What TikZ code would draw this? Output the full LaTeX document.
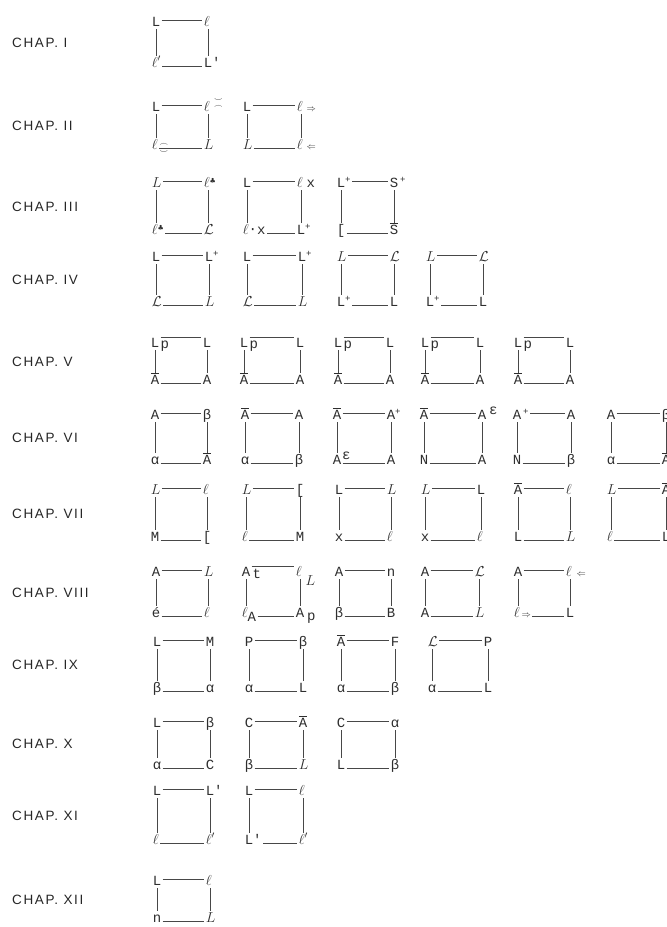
\documentclass[tikz,border=0pt]{standalone}
\usepackage{amsmath}
\usepackage{fontspec}
\newfontfamily\labfont[LetterSpace=12]{Liberation Sans}
\newfontfamily\twfont{Liberation Mono}
\newfontfamily\symfont{DejaVu Sans}
\newcommand\toph{6pt}
\newcommand\ob[1]{\makebox[0pt][l]{\rule[10.5pt]{8.4pt}{0.6pt}}#1}
\newcommand\sps[1]{\raisebox{4.5pt}{\fontsize{9}{9}\selectfont #1}}
\tikzset{
  cell/.style={anchor=base west, inner sep=0pt, outer sep=0pt,
    font=\twfont\fontsize{14}{16}\selectfont, text=black!82},
  dec/.style={inner sep=0pt, outer sep=0pt, text=black!82,
    font=\fontsize{8}{8}\selectfont},
  ln/.style={draw=black!72, line width=0.6pt},
  chap/.style={anchor=west, inner sep=0pt,
    font=\labfont\fontsize{13.5}{15}\selectfont, text=black!85},
}
\newcommand\sq[9]{%
  \node[cell] (#5tl) at (#1-4.2,#2) {#6};
  \node[cell] (#5tr) at (#1+#3-4.2,#2) {#7};
  \node[cell] (#5bl) at (#1-4.2,#2+#4) {#8};
  \node[cell] (#5br) at (#1+#3-4.2,#2+#4) {#9};
  \draw[ln] ([shift={(1.5pt,\toph)}]#5tl.base east) -- ([shift={(-1.5pt,\toph)}]#5tr.base west);
  \draw[ln] ([shift={(4.2pt,-3pt)}]#5tl.base west) -- ([shift={(4.2pt,11pt)}]#5bl.base west);
  \draw[ln] ([shift={(4.2pt,-3pt)}]#5tr.base west) -- ([shift={(4.2pt,11pt)}]#5br.base west);
  \draw[ln] ([shift={(1.5pt,0.3pt)}]#5bl.base east) -- ([shift={(-1.5pt,0.3pt)}]#5br.base west);
}
\begin{document}
\begin{tikzpicture}[x=1pt,y=-1pt]
\fill[white] (0,0) rectangle (667,927);
\useasboundingbox (0,0) rectangle (667,927);

% chapter labels
\node[chap] (ch1) at (12,42.5) {CHAP. I};
\node[chap] (ch2) at (12,126) {CHAP. II};
\node[chap] (ch3) at (12,206.5) {CHAP. III};
\node[chap] (ch4) at (12,279.5) {CHAP. IV};
\node[chap] (ch5) at (12,361.5) {CHAP. V};
\node[chap] (ch6) at (12,437.5) {CHAP. VI};
\node[chap] (ch7) at (12,513.5) {CHAP. VII};
\node[chap] (ch8) at (12,592.5) {CHAP. VIII};
\node[chap] (ch9) at (12,665) {CHAP. IX};
\node[chap] (ch10) at (12,744) {CHAP. X};
\node[chap] (ch11) at (12,815.5) {CHAP. XI};
\node[chap] (ch12) at (12,899.5) {CHAP. XII};

% I
\sq{156}{26}{52}{41}{a}{L}{$\ell$}{$\ell'$}{L'}
% II
\sq{156}{111}{52}{38}{b}{L}{$\ell$}{$\ell$}{$L$}
\node[dec,anchor=south west] (bsm) at ([shift={(4.5pt,9.5pt)}]btr.base east) {$\smile$};
\node[dec,anchor=north west] (bfr) at ([shift={(4.5pt,5.5pt)}]btr.base east) {$\frown$};
\node[dec,anchor=south west] (bcap) at ([shift={(2pt,2.5pt)}]bbl.base east) {$\frown$};
\node[dec,anchor=north west] (bcup) at ([shift={(2pt,-1.5pt)}]bbl.base east) {$\smile$};
\sq{247}{111}{54}{38}{c}{L}{$\ell$\kern4pt{\small$\Rightarrow$}}{$L$}{$\ell$\kern4pt{\small$\Leftarrow$}}
% III
\sq{156}{187}{52}{47}{d}{$L$}{$\ell$\raisebox{4pt}{\symfont\fontsize{7}{7}\selectfont ♣}}{$\ell$\raisebox{4pt}{\symfont\fontsize{7}{7}\selectfont ♣}}{$\mathcal{L}$}
\sq{247}{187}{54}{47}{e}{L}{$\ell$\kern4pt x}{$\ell$\raisebox{1pt}{·}x}{L\sps{+}}
\sq{341}{187}{53}{47}{f}{L\sps{+}}{S\kern2pt\sps{+}}{[}{\ob{S}}
% IV
\sq{156}{261}{53}{45}{g}{L}{L\sps{+}}{$\mathcal{L}$}{$L$}
\sq{247}{261}{55}{45}{h}{L}{L\sps{+}}{$\mathcal{L}$}{$L$}
\sq{341}{261}{53}{45}{i}{$L$}{$\mathcal{L}$}{L\sps{+}}{L}
\sq{430}{261}{53}{45}{j}{$L$}{$\mathcal{L}$}{L\sps{+}}{L}
% V
\renewcommand\toph{10pt}
\sq{155}{347}{52}{37}{k}{L}{L}{\ob{A}}{A}
\node[cell] (kp) at ([shift={(1.5pt,-1.5pt)}]ktl.base east) {p};
\sq{244}{347}{56}{37}{l}{L}{L}{\ob{A}}{A}
\node[cell] (lp) at ([shift={(1.5pt,-1.5pt)}]ltl.base east) {p};
\sq{338}{347}{52}{37}{m}{L}{L}{\ob{A}}{A}
\node[cell] (mp) at ([shift={(1.5pt,-1.5pt)}]mtl.base east) {p};
\sq{425}{347}{55}{37}{n}{L}{L}{\ob{A}}{A}
\node[cell] (np) at ([shift={(1.5pt,-1.5pt)}]ntl.base east) {p};
\sq{518}{347}{52}{37}{o}{L}{L}{\ob{A}}{A}
\node[cell] (op) at ([shift={(1.5pt,-1.5pt)}]otl.base east) {p};
\renewcommand\toph{6pt}
% VI
\sq{155}{419}{52}{45}{p}{A}{β}{α}{\ob{A}}
\sq{245}{419}{54}{45}{q}{\ob{A}}{A}{α}{β}
\sq{337}{419}{54}{45}{r}{\ob{A}}{A\sps{+}}{A\rlap{\raisebox{5pt}{\kern1pt ε}}}{A}
\sq{424}{419}{58}{45}{s}{\ob{A}}{A\kern3pt\raisebox{5pt}{ε}}{N}{A}
\sq{517}{419}{54}{45}{t}{A\kern2pt\sps{+}}{A}{N}{β}
\sq{611}{419}{55}{45}{u}{A}{β}{α}{\ob{A}}
% VII
\sq{155}{494}{52}{47}{v}{$L$}{$\ell$}{M}{[}
\sq{246}{494}{54}{47}{w}{$L$}{[}{$\ell$}{M}
\sq{339}{494}{52}{47}{x}{L}{$L$}{x}{$\ell$}
\sq{425}{494}{56}{47}{y}{$L$}{L}{x}{$\ell$}
\sq{518}{494}{52}{47}{z}{\ob{A}}{$\ell$}{L}{$L$}
\sq{611}{494}{55}{47}{aa}{$L$}{\ob{A}}{$\ell$}{L}
% VIII
\sq{156}{576}{52}{41}{ab}{A}{$L$}{é}{$\ell$}
\renewcommand\toph{10pt}
\sq{246}{576}{54}{41}{ac}{A}{$\ell$\rlap{\raisebox{-9pt}{\kern4pt$L$}}}{$\ell$\raisebox{-4pt}{A}}{A\kern3pt\raisebox{-3pt}{p}}
\node[cell] (act) at ([shift={(2.5pt,-2.5pt)}]actl.base east) {t};
\renewcommand\toph{6pt}
\sq{339}{576}{52}{41}{ad}{A}{n}{β}{B}
\sq{425}{576}{54}{41}{ae}{A}{$\mathcal{L}$}{A}{$L$}
\sq{518}{576}{52}{41}{af}{A}{$\ell$\kern5pt{\small$\Leftarrow$}}{$\ell$\kern2pt{\small$\Rightarrow$}}{L}
% IX
\sq{157}{646}{53}{46}{ag}{L}{M}{β}{α}
\sq{249}{646}{54}{46}{ah}{P}{β}{α}{L}
\sq{341}{646}{54}{46}{ai}{\ob{A}}{F}{α}{β}
\sq{432}{646}{56}{46}{aj}{$\mathcal{L}$}{P}{α}{L}
% X
\sq{157}{727}{53}{42}{ak}{L}{β}{α}{C}
\sq{249}{727}{54}{42}{al}{C}{\ob{A}}{β}{$L$}
\sq{341}{727}{54}{42}{am}{C}{α}{L}{β}
% XI
\sq{157}{795}{53}{49}{an}{L}{L'}{$\ell$}{$\ell'$}
\sq{249}{795}{54}{49}{ao}{L}{$\ell$}{L'}{$\ell'$}
% XII
\sq{157}{885}{53}{37}{ap}{L}{$\ell$}{n}{$L$}
\end{tikzpicture}
\end{document}
